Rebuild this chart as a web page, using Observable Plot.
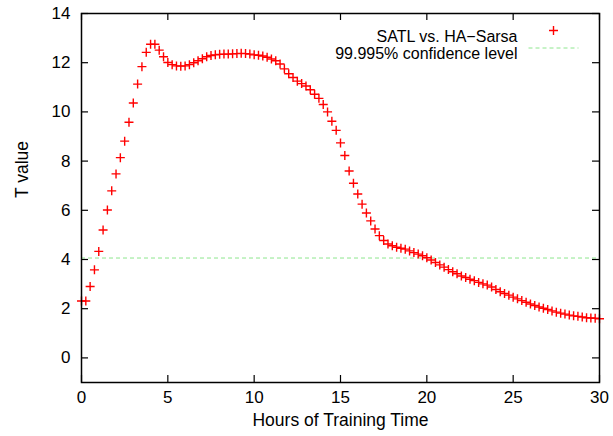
<!DOCTYPE html>
<html>
<head>
<meta charset="utf-8">
<script src="https://cdn.jsdelivr.net/npm/d3@7"></script>
<script src="https://cdn.jsdelivr.net/npm/@observablehq/plot@0.6"></script>
<style>
  body { margin: 0; background: #fff; }
  #chart svg { display: block; }
</style>
</head>
<body>
<div id="chart"></div>
<script>
// ---- data ----
const hours = [
  0, 0.25, 0.5, 0.75, 1, 1.25, 1.5, 1.75, 2, 2.25, 2.5, 2.75, 3, 3.25, 3.5, 3.75,
  4, 4.25, 4.5, 4.75, 5, 5.25, 5.5, 5.75, 6, 6.25, 6.5, 6.75, 7, 7.25, 7.5, 7.75,
  8, 8.25, 8.5, 8.75, 9, 9.25, 9.5, 9.75, 10, 10.25, 10.5, 10.75, 11, 11.25, 11.5, 11.75,
  12, 12.25, 12.5, 12.75, 13, 13.25, 13.5, 13.75, 14, 14.25, 14.5, 14.75, 15, 15.25, 15.5, 15.75,
  16, 16.25, 16.5, 16.75, 17, 17.25, 17.5, 17.75, 18, 18.25, 18.5, 18.75, 19, 19.25, 19.5, 19.75,
  20, 20.25, 20.5, 20.75, 21, 21.25, 21.5, 21.75, 22, 22.25, 22.5, 22.75, 23, 23.25, 23.5, 23.75,
  24, 24.25, 24.5, 24.75, 25, 25.25, 25.5, 25.75, 26, 26.25, 26.5, 26.75, 27, 27.25, 27.5, 27.75,
  28, 28.25, 28.5, 28.75, 29, 29.25, 29.5, 29.75, 30
];
const tValues = [
  2.31, 2.31, 2.90, 3.58, 4.33, 5.20, 6.01, 6.79, 7.48, 8.14, 8.81, 9.58, 10.36, 11.13, 11.84, 12.42,
  12.75, 12.75, 12.51, 12.24, 12.01, 11.92, 11.87, 11.86, 11.87, 11.92, 12.00, 12.08, 12.16, 12.24, 12.29, 12.32,
  12.34, 12.35, 12.35, 12.36, 12.37, 12.38, 12.37, 12.35, 12.32, 12.30, 12.27, 12.22, 12.15, 12.08, 11.95, 11.75,
  11.55, 11.40, 11.25, 11.15, 11.05, 10.90, 10.72, 10.55, 10.30, 10.00, 9.62, 9.25, 8.74, 8.23, 7.60, 7.10,
  6.66, 6.25, 5.89, 5.57, 5.24, 4.97, 4.77, 4.63, 4.56, 4.50, 4.46, 4.42, 4.35, 4.28, 4.22, 4.15,
  4.07, 3.98, 3.88, 3.78, 3.69, 3.59, 3.50, 3.42, 3.33, 3.27, 3.20, 3.14, 3.07, 3.01, 2.96, 2.88,
  2.78, 2.69, 2.62, 2.55, 2.47, 2.40, 2.33, 2.26, 2.19, 2.13, 2.07, 2.02, 1.97, 1.91, 1.86, 1.82,
  1.78, 1.74, 1.71, 1.69, 1.66, 1.63, 1.62, 1.61, 1.59
];
const confidenceLevel = [4.06];
const xTicks = [0, 5, 10, 15, 20, 25, 30];
const yTicks = [0, 2, 4, 6, 8, 10, 12, 14];
const xDomain = [0, 30];
const yDomain = [-1, 14];
const seriesLabel = ["SATL vs. HA\u2212Sarsa"];
const thresholdLabel = ["99.995% confidence level"];
const xLabel = ["Hours of Training Time"];
const yLabel = ["T value"];

// ---- layout ----
const W = 613, H = 436;
const mL = 81, mR = 14, mT = 13, mB = 54;
const frameW = W - mL - mR, frameH = H - mT - mB;
const tickLen = 7;
const font = "'Liberation Sans', Arial, Helvetica, sans-serif";
const red = "#ff0000";
const green = "#8ee68e";

const rows = hours.map((h, i) => ({hours: h, t: tValues[i]}));

const plusSymbol = {
  draw(ctx) {
    ctx.moveTo(-4.5, 0); ctx.lineTo(4.5, 0);
    ctx.moveTo(0, -4.5); ctx.lineTo(0, 4.5);
  }
};
const dashSymbol = {
  draw(ctx) { ctx.moveTo(-25, 0); ctx.lineTo(25, 0); }
};

const chart = Plot.plot({
  width: W,
  height: H,
  marginLeft: mL,
  marginRight: mR,
  marginTop: mT,
  marginBottom: mB,
  style: {fontFamily: font, background: "#fff", color: "#000"},
  x: {domain: xDomain},
  y: {domain: yDomain},
  marks: [
    Plot.ruleY(confidenceLevel, {stroke: green, strokeWidth: 1, strokeDasharray: "4,3"}),
    Plot.dot(rows, {x: "hours", y: "t", symbol: plusSymbol, r: 4.5, fill: "none", stroke: red, strokeWidth: 1.4}),
    Plot.frame({stroke: "#000", strokeWidth: 1.5}),
    // inward ticks on all four sides
    Plot.tickX(xTicks, {x: d => d, insetTop: frameH - tickLen, stroke: "#000", strokeWidth: 1.2}),
    Plot.tickX(xTicks, {x: d => d, insetBottom: frameH - tickLen, stroke: "#000", strokeWidth: 1.2}),
    Plot.tickY(yTicks, {y: d => d, insetRight: frameW - tickLen, stroke: "#000", strokeWidth: 1.2}),
    Plot.tickY(yTicks, {y: d => d, insetLeft: frameW - tickLen, stroke: "#000", strokeWidth: 1.2}),
    Plot.axisX(xTicks, {anchor: "bottom", tickSize: 0, tickPadding: 8, fontSize: 17, label: null, fill: "#000"}),
    Plot.axisY(yTicks, {anchor: "left", tickSize: 0, tickPadding: 11, fontSize: 17, label: null, fill: "#000"}),
    Plot.text(xLabel, {frameAnchor: "bottom", dy: 43, fontSize: 17.5, fill: "#000"}),
    Plot.text(yLabel, {frameAnchor: "left", dx: -59, rotate: -90, fontSize: 17.5, fill: "#000"}),
    // legend
    Plot.text(seriesLabel, {frameAnchor: "top-right", dx: -82, dy: 17, textAnchor: "end", fontSize: 16, fill: "#000"}),
    Plot.text(thresholdLabel, {frameAnchor: "top-right", dx: -82, dy: 34.5, textAnchor: "end", fontSize: 16, fill: "#000"}),
    Plot.dot(seriesLabel, {frameAnchor: "top-right", dx: -46, dy: 17, symbol: plusSymbol, r: 4.5, fill: "none", stroke: red, strokeWidth: 1.4}),
    Plot.dot(thresholdLabel, {frameAnchor: "top-right", dx: -46, dy: 34.5, symbol: dashSymbol, r: 4.5, fill: "none", stroke: green, strokeWidth: 1, strokeDasharray: "4,3"})
  ]
});

document.getElementById("chart").appendChild(chart);
</script>
</body>
</html>
